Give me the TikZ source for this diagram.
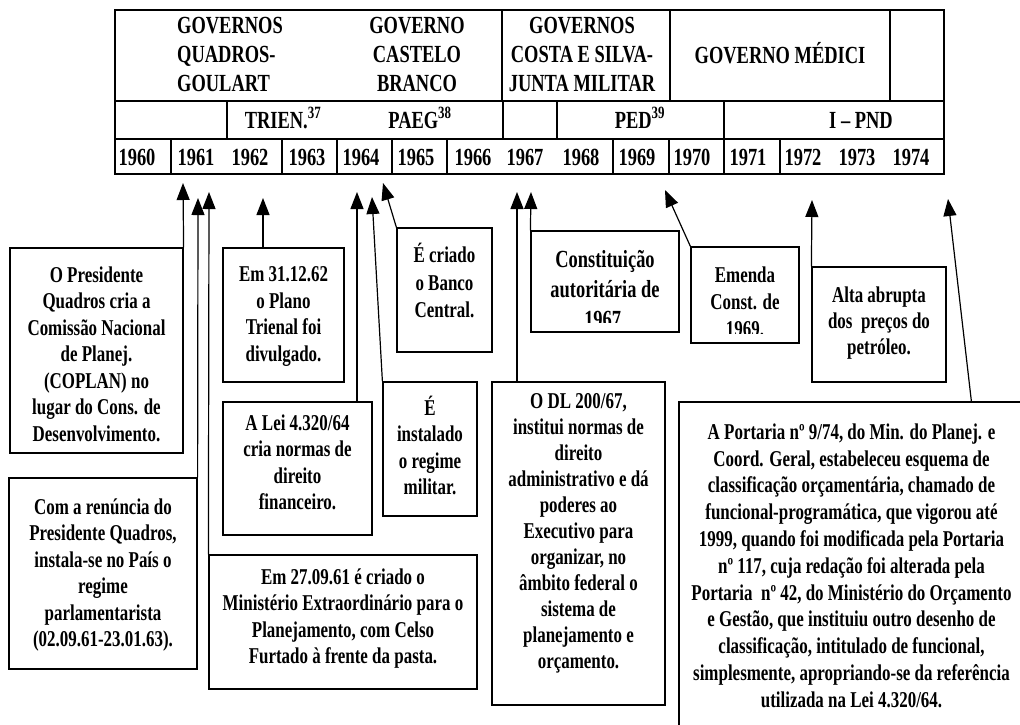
\documentclass[tikz,border=0pt]{standalone}
\usepackage{fontspec}
\setmainfont{Liberation Serif}[FakeStretch=0.75]
\usetikzlibrary{arrows.meta,fit}
\newcommand{\tam}[2]{\fontsize{#1pt}{#2pt}\selectfont}
\tikzset{caixa/.style = {draw, line width=1.2pt, inner sep=0pt},
    texto/.style = {align=center, inner sep=0pt, anchor=north, font=\tam{22.6}{#1}\bfseries},
    texto/.default = 26.5,
    cabec/.style = {align=center, inner sep=0pt, anchor=north, font=\tam{24.6}{29}\bfseries},
    ano/.style   = {inner sep=0pt, anchor=base, font=\tam{24.6}{29}\bfseries},
    grade/.style = {line width=2.2pt},
    seta/.style  = {->, line width=1.2pt}}

\begin{document}
\begin{tikzpicture}[x=1pt, y=-1pt, >={Triangle[length=17pt, width=13pt]}]
    \useasboundingbox (0,0) rectangle (1020,724);

    % quadro dos governos
    \draw[grade] (115,10) rectangle (944,174);
    \draw[grade] (115,101) -- (944,101);
    \draw[grade] (115,139) -- (944,139);
    \foreach \x in {502,670,890} \draw[grade] (\x,10) -- (\x,101);
    \foreach \x in {227,503,557,724} \draw[grade] (\x,101) -- (\x,139);
    \foreach \x in {171,282,337,392,447,613,669,724,780} \draw[grade] (\x,139) -- (\x,174);

    \node[cabec, align=left, anchor=north west] (quadros) at (177,17) {GOVERNOS\\QUADROS-\\GOULART};
    \node[cabec] (castelo) at (417,17) {GOVERNO\\CASTELO\\BRANCO};
    \node[cabec] (costa) at (582,17) {GOVERNOS\\COSTA E SILVA-\\JUNTA MILITAR};
    \node[ano] (medici) at (780,63) {GOVERNO MÉDICI};

    \foreach \n/\x/\t in {trien/283/TRIEN.\textsuperscript{37}, paeg/420/PAEG\textsuperscript{38},
        ped/640/PED\textsuperscript{39}, pnd/861/I – PND}
        \node[ano] (\n) at (\x,128) {\t};

    \foreach \a/\x in {1960/137, 1961/196, 1962/250, 1963/307, 1964/361, 1965/416, 1966/473, 1967/525,
        1968/581, 1969/637, 1970/692, 1971/748, 1972/803, 1973/857, 1974/911}
        \node[ano] (a\a) at (\x,165) {\a};

    % caixas
    \node[caixa, fit={(10,248) (183,453)}] (presidente) {};
    \node[texto] (tpresidente) at ([yshift=-19pt]presidente.north)
        {O Presidente\\Quadros cria a\\Comissão Nacional\\de Planej.\\(COPLAN) no\\lugar do Cons. de\\Desenvolvimento.};

    \node[caixa, fit={(9,478) (197,669)}] (renuncia) {};
    \node[texto] (trenuncia) at ([yshift=-21pt]renuncia.north)
        {Com a renúncia do\\Presidente Quadros,\\instala-se no País o\\regime\\parlamentarista\\(02.09.61-23.01.63).};

    \node[caixa, fit={(223,248) (344,382)}] (trienal) {};
    \node[texto] (ttrienal) at ([yshift=-19pt]trienal.north) {Em 31.12.62\\o Plano\\Trienal foi\\divulgado.};

    \node[caixa, fit={(223,402) (372,535)}] (lei) {};
    \node[texto] (tlei) at ([yshift=-13pt]lei.north) {A Lei 4.320/64\\cria normas de\\direito\\financeiro.};

    \node[caixa, fit={(209,555) (477,689)}] (ministerio) {};
    \node[texto] (tministerio) at ([yshift=-14pt]ministerio.north)
        {Em 27.09.61 é criado o\\Ministério Extraordinário para o\\Planejamento, com Celso\\Furtado à frente da pasta.};

    \node[caixa, fit={(397,228) (492,352)}] (banco) {};
    \node[texto=27.5] (tbanco) at ([yshift=-16pt]banco.north) {É criado\\o Banco\\Central.};

    \node[caixa, fit={(383,382) (477,516)}] (militar) {};
    \node[texto] (tmilitar) at ([yshift=-14pt]militar.north) {É\\instalado\\o regime\\militar.};

    \node[caixa, fit={(531,231) (679,332)}] (constituicao) {};
    \begin{scope}
        \clip (531,231) rectangle (679,322);
        \node[texto, font=\tam{24.6}{30}\bfseries] (tconstituicao) at ([yshift=-20pt]constituicao.north)
            {Constituição\\autoritária de\\1967.};
    \end{scope}

    \node[caixa, fit={(691,247) (799,343)}] (emenda) {};
    \begin{scope}
        \clip (691,247) rectangle (799,333);
        \node[texto=27] (temenda) at ([yshift=-20pt]emenda.north) {Emenda\\Const. de\\1969.};
    \end{scope}

    \node[caixa, fit={(812,267) (946,382)}] (petroleo) {};
    \node[texto=26] (tpetroleo) at ([yshift=-20pt]petroleo.north) {Alta abrupta\\dos~ preços do\\petróleo.};

    \node[caixa, fit={(492,382) (665,705)}] (dl) {};
    \node[texto=26] (tdl) at ([yshift=-12pt]dl.north)
        {O DL 200/67,\\institui normas de\\direito\\administrativo e dá\\poderes ao\\Executivo para\\organizar, no\\âmbito federal o\\sistema de\\planejamento e\\orçamento.};

    \node[caixa, fit={(679,402) (1024,740)}] (portaria) {};
    \node[texto=26.8] (tportaria) at ([yshift=-22pt]portaria.north)
        {A Portaria nº 9/74, do Min. do Planej. e\\Coord. Geral, estabeleceu esquema de\\classificação orçamentária, chamado de\\funcional-programática, que vigorou até\\1999, quando foi modificada pela Portaria\\nº 117, cuja redação foi alterada pela\\Portaria~ nº 42, do Ministério do Orçamento\\e Gestão, que instituiu outro desenho de\\classificação, intitulado de funcional,\\simplesmente, apropriando-se da referência\\utilizada na Lei 4.320/64.};

    % setas
    \coordinate (p1) at (183,183);
    \coordinate (p2) at (198,198);
    \coordinate (p3) at (209,192);
    \coordinate (p4) at (263,198);
    \coordinate (p5) at (357,192);
    \coordinate (p6) at (372,197);
    \coordinate (p7) at (383,183);
    \coordinate (p8) at (517,192);
    \coordinate (p9) at (531,192);
    \coordinate (p10) at (665,190);
    \coordinate (p11) at (812,200);
    \coordinate (p12) at (948,199);

    \draw[seta] (presidente.north east) -- (p1);
    \draw[seta] (renuncia.north east) -- (p2);
    \draw[seta] (ministerio.north west) -- (p3);
    \draw[seta] (p4 |- trienal.north) -- (p4);
    \draw[seta] (p5 |- lei.north) -- (p5);
    \draw[seta] (militar.north west) -- (p6);
    \draw[seta] (banco.north west) -- (p7);
    \draw[seta] (p8 |- dl.north) -- (p8);
    \draw[seta] (constituicao.north west) -- (p9);
    \draw[seta] (emenda.north west) -- (p10);
    \draw[seta] (petroleo.north west) -- (p11);
    \draw[seta] ([xshift=293pt]portaria.north west) -- (p12);
\end{tikzpicture}
\end{document}
